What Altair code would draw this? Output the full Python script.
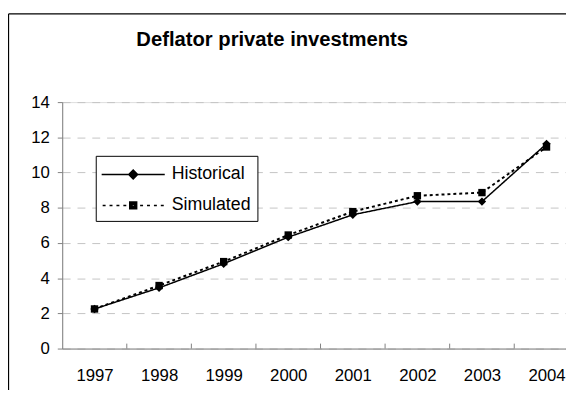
import altair as alt
import pandas as pd

# ---------------- data ----------------
years = [1997, 1998, 1999, 2000, 2001, 2002, 2003, 2004]
historical = [2.25, 3.45, 4.82, 6.33, 7.6, 8.35, 8.35, 11.63]
simulated = [2.25, 3.58, 4.94, 6.45, 7.78, 8.68, 8.86, 11.45]
series_names = ["Historical", "Simulated"]
y_ticks = [0, 2, 4, 6, 8, 10, 12, 14]
title_text = "Deflator private investments"

rows = []
for name, vals in zip(series_names, [historical, simulated]):
    for yr, v in zip(years, vals):
        rows.append({"year": yr, "value": v, "series": name})
df = pd.DataFrame(rows)
bounds_df = pd.DataFrame({"b": [y + 0.5 for y in years[:-1]]})
one = pd.DataFrame({"k": [0]})

# ---------------- layout / style ----------------
W, H = 511, 250
BOTTOM = 42
PX_PER_YEAR = 65.5
FONT = "Liberation Sans"
AXIS_GREY = "#808080"

xscale = alt.Scale(domain=[years[0] - 0.5, years[0] - 0.5 + W / PX_PER_YEAR], nice=False, zero=False)
yscale = alt.Scale(domain=[0, 14], nice=False, zero=True)

x_axis = alt.Axis(values=years, format="d", title=None, ticks=False, tickSize=0, grid=False,
                  domainColor=AXIS_GREY, domainWidth=1, labelFont=FONT, labelFontSize=17,
                  labelColor="black", labelPadding=19, labelFlush=False, labelOverlap=False)
y_axis = alt.Axis(values=y_ticks, format="d", title=None, tickSize=5, tickColor=AXIS_GREY,
                  domainColor=AXIS_GREY, domainWidth=1, grid=True, gridColor="#c4c4c4",
                  gridDash=[8, 7], gridWidth=1, labelFont=FONT, labelFontSize=17,
                  labelColor="black", labelPadding=8, labelOverlap=False)

x_enc = alt.X("year:Q", scale=xscale, axis=x_axis)
y_enc = alt.Y("value:Q", scale=yscale, axis=y_axis)

# legend symbols: line + marker drawn as custom paths (markers as concentric outlines)
SYM_SIZE = 600
R = SYM_SIZE ** 0.5 / 2.0


def u(px):
    return px / R


hist_parts = [f"M{-u(32):.3f},0H{u(32):.3f}"]
for h in [4.5, 3.2, 1.9, 0.6]:
    hist_parts.append(f"M0,{-u(h):.3f}L{u(h):.3f},0L0,{u(h):.3f}L{-u(h):.3f},0Z")
hist_path = "".join(hist_parts)

sim_parts = []
for h in [3.5, 2.3, 1.1]:
    sim_parts.append(f"M{-u(h):.3f},{-u(h):.3f}H{u(h):.3f}V{u(h):.3f}H{-u(h):.3f}Z")
for start in [7, 14, 21, 28]:
    sim_parts.append(f"M{u(start):.3f},0H{u(start + 3):.3f}")
    sim_parts.append(f"M{-u(start):.3f},0H{-u(start + 3):.3f}")
sim_path = "".join(sim_parts)

# ---------------- layers ----------------
frame_top = alt.Chart(one).mark_rule(color="black", strokeWidth=1.3).encode(
    x=alt.value(-54.5), x2=alt.value(W), y=alt.value(-89.4))
frame_left = alt.Chart(one).mark_rule(color="black", strokeWidth=1.3).encode(
    x=alt.value(-54.5), y=alt.value(-89.4), y2=alt.value(H + BOTTOM))

tick_rules = alt.Chart(bounds_df).mark_rule(color=AXIS_GREY, strokeWidth=1).encode(
    x=alt.X("b:Q", scale=xscale, axis=x_axis),
    y=alt.YDatum(0, scale=yscale, axis=y_axis),
    y2=alt.datum(0.28),
)

lines = alt.Chart(df).mark_line(color="black").encode(
    x=x_enc, y=y_enc, detail="series:N",
    strokeDash=alt.StrokeDash("series:N", scale=alt.Scale(domain=series_names, range=[[1, 0], [3, 3]]), legend=None),
    strokeWidth=alt.StrokeWidth("series:N", scale=alt.Scale(domain=series_names, range=[1.5, 2]), legend=None),
)

points = alt.Chart(df).mark_point(filled=True, color="black", opacity=1).encode(
    x=x_enc, y=y_enc,
    shape=alt.Shape("series:N", scale=alt.Scale(domain=series_names, range=["diamond", "square"]), legend=None),
    size=alt.Size("series:N", scale=alt.Scale(domain=series_names, range=[72, 56]), legend=None),
)

legend_layer = alt.Chart(df).transform_filter("false").mark_point(
    filled=False, color="black", strokeWidth=1.5, size=SYM_SIZE, opacity=1
).encode(
    x=x_enc, y=y_enc,
    shape=alt.Shape(
        "series:N",
        scale=alt.Scale(domain=series_names, range=[hist_path, sim_path]),
        legend=alt.Legend(
            title=None, orient="none", legendX=34, legendY=54.5, direction="vertical",
            padding=6, strokeColor="black", fillColor="white",
            labelFont=FONT, labelFontSize=18, labelColor="black", labelLimit=300,
            symbolOffset=19, labelOffset=26, rowPadding=9.3,
            symbolSize=SYM_SIZE, symbolStrokeWidth=1.5, symbolStrokeColor="black",
        ),
    ),
)

chart = alt.layer(frame_top, frame_left, tick_rules, lines, points, legend_layer).resolve_scale(
    shape="independent", size="independent"
).properties(
    width=W, height=H,
    autosize=alt.AutoSizeParams(type="none"),
    padding={"left": 55, "top": 92.7, "right": 0, "bottom": BOTTOM},
    title=alt.TitleParams(title_text, font=FONT, fontSize=20.5, fontWeight="bold", color="black",
                          anchor="middle", frame="group", dx=-42.5, offset=-54, baseline="alphabetic"),
).configure_view(stroke=None).configure(background="white")

chart.save("out.html", embed_options={"renderer": "svg", "actions": False})
